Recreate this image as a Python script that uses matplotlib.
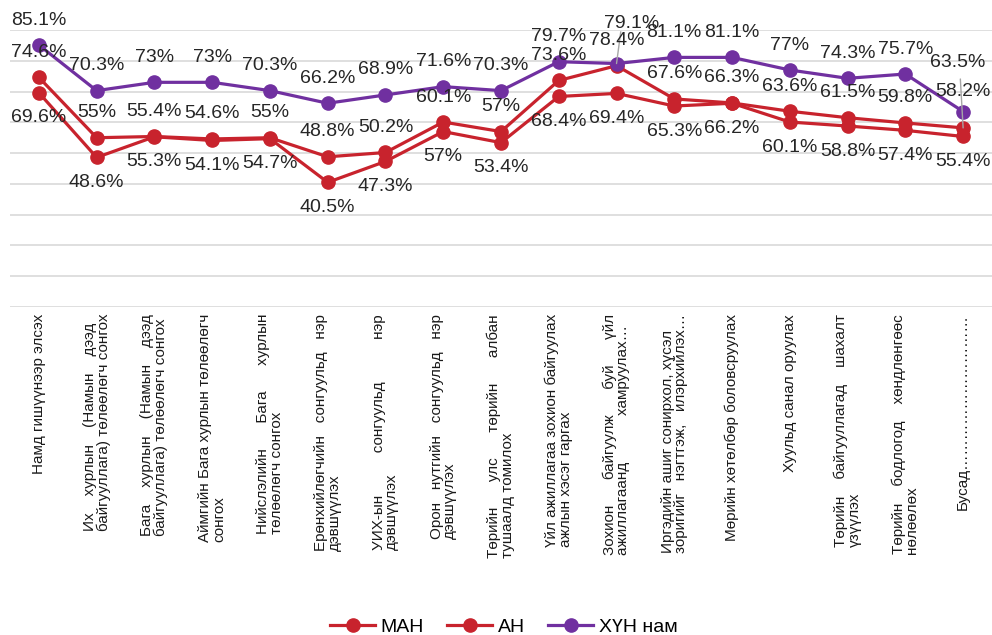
import matplotlib
matplotlib.use("Agg")
import matplotlib.pyplot as plt
from matplotlib.lines import Line2D

plt.rcParams['font.family'] = ['Liberation Sans', 'DejaVu Sans']

categories = [
    "Намд гишүүнээр элсэх",
    "Их    хурлын    (Намын    дээд\nбайгууллага) төлөөлөгч сонгох",
    "Бага    хурлын    (Намын    дээд\nбайгууллага) төлөөлөгч сонгох",
    "Аймгийн Бага хурлын төлөөлөгч\nсонгох",
    "Нийслэлийн      Бага      хурлын\nтөлөөлөгч сонгох",
    "Ерөнхийлөгчийн   сонгуульд   нэр\nдэвшүүлэх",
    "УИХ-ын          сонгуульд          нэр\nдэвшүүлэх",
    "Орон   нутгийн   сонгуульд   нэр\nдэвшүүлэх",
    "Төрийн      улс      төрийн      албан\nтушаалд томилох",
    "Үйл ажиллагаа зохион байгуулах\nажлын хэсэг гаргах",
    "Зохион      байгуулж      буй      үйл\nажиллагаанд           хамруулах…",
    "Иргэдийн ашиг сонирхол, хүсэл\nзоригийг   нэгтгэж,   илэрхийлэх…",
    "Мөрийн хөтөлбөр боловсруулах",
    "Хуульд санал оруулах",
    "Төрийн    байгууллагад    шахалт\nүзүүлэх",
    "Төрийн    бодлогод    хөндлөнгөөс\nнөлөөлөх",
    "Бусад…………………………",
]

series_names = ["МАН", "АН", "ХҮН нам"]
man = [74.6, 55, 55.4, 54.6, 55, 48.8, 50.2, 60.1, 57, 73.6, 78.4, 67.6, 66.3, 63.6, 61.5, 59.8, 58.2]
an = [69.6, 48.6, 55.3, 54.1, 54.7, 40.5, 47.3, 57, 53.4, 68.4, 69.4, 65.3, 66.2, 60.1, 58.8, 57.4, 55.4]
hun = [85.1, 70.3, 73, 73, 70.3, 66.2, 68.9, 71.6, 70.3, 79.7, 79.1, 81.1, 81.1, 77, 74.3, 75.7, 63.5]

RED = "#C8232D"
PURPLE = "#7030A0"
LABEL_C = "#262626"

fig = plt.figure(figsize=(9.92, 6.35), dpi=100)
ax = fig.add_axes([10 / 992, (635 - 307) / 635, 982 / 992, 277 / 635])

x = list(range(len(categories)))
ax.set_xlim(-0.5, len(categories) - 0.5)
ax.set_ylim(0, 90)
ax.set_yticks(range(0, 91, 10))
ax.yaxis.grid(True, color="#D9D9D9", lw=1.2)
ax.set_axisbelow(True)
for s in ax.spines.values():
    s.set_visible(False)
ax.tick_params(axis='y', left=False, labelleft=False)
ax.tick_params(axis='x', length=0, pad=5)
ax.set_xticks(x)
ax.set_xticklabels(categories, rotation=90, fontsize=11, color="#1a1a1a",
                   va='top', ha='center', multialignment='left', linespacing=0.95)

lw = 2.3
ms = 9.5
ax.plot(x, man, color=RED, lw=lw, marker='o', ms=ms, zorder=3)
ax.plot(x, an, color=RED, lw=lw, marker='o', ms=ms, zorder=3)
ax.plot(x, hun, color=PURPLE, lw=lw, marker='o', ms=ms, zorder=4)

FS = 14
# special label offsets (points); leader lines where the reference shows them
special = {("hun", 10): ((11, 29), (0.3, 0.0)),
           ("man", 16): ((0, 26), (0.45, 1.25)),
           ("hun", 16): ((-4, 35), None)}

def labels(vals, key, dy):
    for i, v in enumerate(vals):
        txt = f"{v:g}%"
        if (key, i) in special:
            off, rel = special[(key, i)]
            kw = {}
            if rel is not None:
                kw['arrowprops'] = dict(arrowstyle='-', color='#A6A6A6', lw=1,
                                        shrinkA=0, shrinkB=0, relpos=rel,
                                        patchA=None)
            ax.annotate(txt, (i, v), xytext=off, textcoords='offset points',
                        ha='center', va='center', fontsize=FS, color=LABEL_C, zorder=6, **kw)
        else:
            ax.annotate(txt, (i, v), xytext=(0, dy), textcoords='offset points',
                        ha='center', va='center', fontsize=FS, color=LABEL_C, zorder=6)

labels(hun, "hun", 18)
labels(man, "man", 18)
labels(an, "an", -18)

handles = [
    Line2D([], [], color=RED, lw=lw, marker='o', ms=ms),
    Line2D([], [], color=RED, lw=lw, marker='o', ms=ms),
    Line2D([], [], color=PURPLE, lw=lw, marker='o', ms=ms),
]
fig.legend(handles, series_names, loc='center', bbox_to_anchor=(504 / 992, 1 - 627 / 635),
           ncol=3, frameon=False, fontsize=14, handlelength=2.3, handletextpad=0.3,
           columnspacing=1.2)

fig.savefig("out.png", dpi=100)
